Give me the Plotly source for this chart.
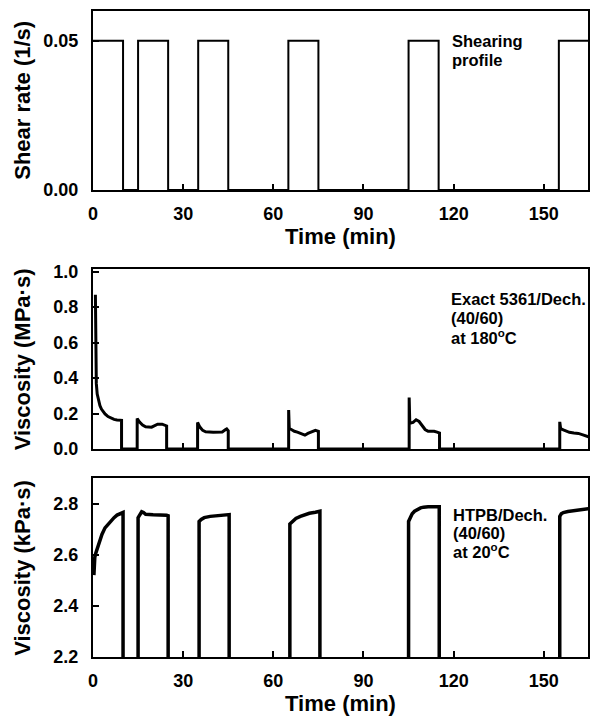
import plotly.graph_objects as go

# ---------------- data ----------------
shear_time = [0, 10, 15, 25, 35, 45, 65, 75, 105, 115, 155, 165]
shear_rate = [0.05, 0, 0.05, 0, 0.05, 0, 0.05, 0, 0.05, 0, 0.05, 0.05]

exact_time = [0.8, 0.85, 0.95, 1.1, 1.4, 1.8, 2.3, 2.8, 3.4, 4.0, 5.0, 6.0, 7.0, 8.0, 9.5, 9.5,
              14.7, 14.7, 15.5, 16.5, 17.5, 19.5, 20.5, 21.5, 23.0, 24.0, 24.5, 24.5,
              34.8, 34.8, 35.5, 36.5, 37.5, 40.0, 43.0, 44.0, 44.5, 45.0, 45.0,
              65.1, 65.1, 65.3, 66.0, 67.0, 68.0, 69.5, 70.5, 71.5, 72.5, 74.0, 75.0, 75.0,
              105.2, 105.2, 105.4, 106.5, 107.5, 108.5, 109.5, 110.5, 111.5, 112.5, 113.5, 114.5, 115.3, 115.3,
              155.3, 155.3, 155.6, 156.5, 157.5, 158.5, 160.0, 161.5, 163.0, 164.0, 165.0]
exact_visc = [0.87, 0.62, 0.45, 0.37, 0.31, 0.27, 0.245, 0.225, 0.21, 0.198, 0.183, 0.173, 0.167, 0.164, 0.162, 0,
              0, 0.172, 0.152, 0.135, 0.125, 0.123, 0.13, 0.14, 0.14, 0.133, 0.13, 0,
              0, 0.15, 0.125, 0.105, 0.097, 0.095, 0.096, 0.108, 0.113, 0.103, 0,
              0, 0.22, 0.115, 0.11, 0.1, 0.095, 0.082, 0.078, 0.088, 0.095, 0.105, 0.1, 0,
              0, 0.29, 0.145, 0.15, 0.165, 0.155, 0.135, 0.11, 0.1, 0.102, 0.1, 0.095, 0.09, 0,
              0, 0.153, 0.115, 0.108, 0.1, 0.094, 0.09, 0.088, 0.08, 0.074, 0.068]

htpb_time = [0.3, 0.4, 0.6, 0.9, 1.3, 2.0, 3.0, 4.0, 5.0, 6.0, 7.0, 8.0, 9.0, 10.0, 10.0,
             15.0, 15.0, 15.5, 16.2, 16.8, 17.5, 20.0, 23.0, 24.5, 25.0, 25.0,
             35.3, 35.3, 36.0, 37.0, 39.0, 41.0, 43.0, 45.3, 45.3,
             65.5, 65.5, 66.5, 67.5, 69.0, 70.5, 72.0, 74.0, 75.5, 75.5,
             105.0, 105.0, 105.5, 106.2, 107.0, 108.0, 109.0, 110.0, 111.5, 115.2, 115.2,
             155.3, 155.3, 155.8, 156.5, 158.0, 160.0, 162.0, 165.0]
htpb_visc = [2.52, 2.56, 2.59, 2.605, 2.62, 2.645, 2.68, 2.705, 2.72, 2.735, 2.745, 2.755, 2.76, 2.765, 0,
             0, 2.745, 2.755, 2.768, 2.765, 2.758, 2.756, 2.756, 2.754, 2.752, 0,
             0, 2.73, 2.738, 2.745, 2.75, 2.752, 2.755, 2.757, 0,
             0, 2.72, 2.732, 2.742, 2.75, 2.756, 2.762, 2.766, 2.77, 0,
             0, 2.73, 2.745, 2.76, 2.77, 2.778, 2.783, 2.786, 2.788, 2.788, 0,
             0, 2.75, 2.76, 2.765, 2.769, 2.772, 2.775, 2.78]

time_ticks = [0, 30, 60, 90, 120, 150]
shear_ticks = [0.0, 0.05]
exact_ticks = [0.0, 0.2, 0.4, 0.6, 0.8, 1.0]
htpb_ticks = [2.2, 2.4, 2.6, 2.8]

# ---------------- figure ----------------
FONT = "Arial, Liberation Sans, Helvetica, sans-serif"
W, H = 591, 719
ML, MR, MT, MB = 93, 1, 11, 62
PH = H - MT - MB


def ydom(top_px, bot_px):
    return [(H - MB - bot_px) / PH, (H - MB - top_px) / PH]


fig = go.Figure()
fig.add_trace(go.Scatter(x=shear_time, y=shear_rate, mode="lines", line=dict(color="black", width=2, shape="hv"),
                         xaxis="x", yaxis="y", showlegend=False))
fig.add_trace(go.Scatter(x=exact_time, y=exact_visc, mode="lines", line=dict(color="black", width=3),
                         xaxis="x2", yaxis="y2", showlegend=False))
fig.add_trace(go.Scatter(x=htpb_time, y=htpb_visc, mode="lines", line=dict(color="black", width=3.5),
                         xaxis="x3", yaxis="y3", showlegend=False))

tickfont = dict(family=FONT, size=18, color="black", weight="bold")
titlefont = dict(family=FONT, size=22, color="black", weight="bold")


def xax(anchor, show_labels, title):
    d = dict(range=[0, 164.7], tickvals=time_ticks, ticks="inside", ticklen=6, tickwidth=2, tickcolor="black",
             showline=True, linewidth=2, linecolor="black", mirror=True, showgrid=False, zeroline=False,
             anchor=anchor, domain=[0, 1], tickfont=tickfont, showticklabels=show_labels, ticklabelstandoff=6)
    if title:
        d["title"] = dict(text=title, font=titlefont, standoff=6)
    return d


def yax(anchor, dom, rng, ticks, fmt):
    return dict(range=rng, tickvals=ticks, tickformat=fmt, ticks="inside", ticklen=6, tickwidth=2, tickcolor="black",
                showline=True, linewidth=2, linecolor="black", mirror=True, showgrid=False, zeroline=False,
                anchor=anchor, domain=dom, tickfont=tickfont, ticklabelstandoff=9)


d1 = ydom(11, 190)
d2 = ydom(269, 449)
d3 = ydom(478, 657)

fig.update_layout(
    width=W, height=H, margin=dict(l=ML, r=MR, t=MT, b=MB),
    paper_bgcolor="white", plot_bgcolor="white",
    xaxis=xax("y", True, "Time (min)"),
    xaxis2=xax("y2", False, None),
    xaxis3=xax("y3", True, "Time (min)"),
    yaxis=yax("x", d1, [0, 0.06], shear_ticks, ".2f"),
    yaxis2=yax("x2", d2, [0, 1.015], exact_ticks, ".1f"),
    yaxis3=yax("x3", d3, [2.2, 2.9], htpb_ticks, ".1f"),
)


def px_x(px):
    return (px - ML) / (W - ML - MR)


def px_y(py):
    return (H - MB - py) / PH


annot_font = dict(family=FONT, size=16.5, color="black", weight="bold")
notes = [
    ("Shearing", 451, 41), ("profile", 451, 60),
    ("Exact 5361/Dech.", 450, 299), ("(40/60)", 450, 318), ("at 180<sup>o</sup>C", 450, 337),
    ("HTPB/Dech.", 452, 515), ("(40/60)", 452, 533), ("at 20<sup>o</sup>C", 452, 551),
]
for txt, x, y in notes:
    fig.add_annotation(text=txt, xref="paper", yref="paper", x=px_x(x), y=px_y(y), xanchor="left",
                       yanchor="middle", showarrow=False, font=annot_font)

ytitles = [("Shear rate (1/s)", 100.5), ("Viscosity (MPa·s)", 359), ("Viscosity (kPa·s)", 567.5)]
for txt, y in ytitles:
    fig.add_annotation(text=txt, xref="paper", yref="paper", x=px_x(22), y=px_y(y), xanchor="center",
                       yanchor="middle", textangle=-90, showarrow=False, font=titlefont)

fig.write_html(
    "out.html",
    config={"displayModeBar": False},
    post_script="document.body.style.margin='0';document.body.style.overflow='hidden';"
                "document.documentElement.style.overflow='hidden';",
)
